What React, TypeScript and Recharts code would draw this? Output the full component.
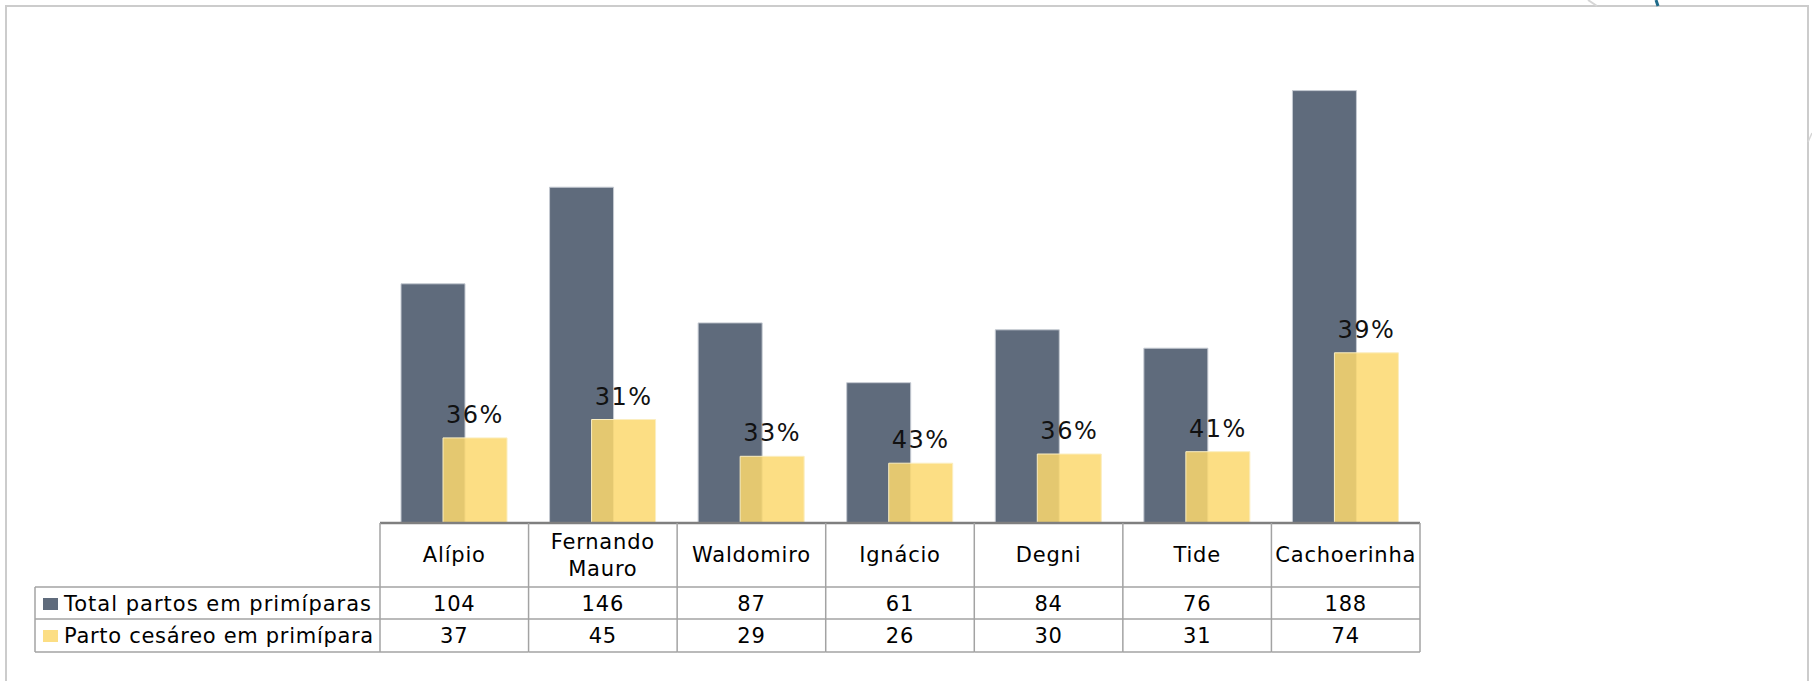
import React from "react";
import { BarChart, Bar, XAxis, YAxis, LabelList } from "recharts";

const categories = ["Alípio", "Fernando Mauro", "Waldomiro", "Ignácio", "Degni", "Tide", "Cachoerinha"];
const totalPartos = [104, 146, 87, 61, 84, 76, 188];
const partoCesareo = [37, 45, 29, 26, 30, 31, 74];
const percentLabels = ["36%", "31%", "33%", "43%", "36%", "41%", "39%"];
const seriesNames = ["Total partos em primíparas", "Parto cesáreo em primípara"];

const data = categories.map((name, i) => ({
  name,
  total: totalPartos[i],
  cesareo: partoCesareo[i],
  pct: percentLabels[i],
}));

const W = 1812;
const H = 681;
const MARGIN = { top: 63, right: 392, bottom: 28, left: 380 };
const AXIS_H = 130;
const CELL_W = (W - MARGIN.left - MARGIN.right) / categories.length;
const LEGEND_LEFT = 35;

const DARK = "#5f6b7c";
const YELLOW = "#fcd86f";
const LINE = "#a3a3a3";
const FONT = "'DejaVu Sans', sans-serif";

const ROW1 = 64; // height of category row
const ROW2 = 32;
const ROW3 = 33;

const textStyle: React.CSSProperties = { letterSpacing: 0.8 };

const TableTick = (props: any) => {
  const { x, y, payload, index } = props;
  const left = x - CELL_W / 2;
  const right = x + CELL_W / 2;
  const yA = y;
  const yB = y + ROW1;
  const yC = yB + ROW2;
  const yD = yC + ROW3;
  const name: string = payload.value;
  const lines = name.includes(" ") ? name.split(" ") : [name];
  const i = categories.indexOf(name);
  const isLast = index === categories.length - 1;
  return (
    <g fontFamily={FONT} fontSize={21} fill="#000">
      <line x1={left} y1={yA} x2={left} y2={yD} stroke={LINE} strokeWidth={1.5} />
      {isLast && <line x1={right} y1={yA} x2={right} y2={yD} stroke={LINE} strokeWidth={1.5} />}
      <line x1={left} y1={yB} x2={right} y2={yB} stroke={LINE} strokeWidth={1.5} />
      <line x1={left} y1={yC} x2={right} y2={yC} stroke={LINE} strokeWidth={1.5} />
      <line x1={left} y1={yD} x2={right} y2={yD} stroke={LINE} strokeWidth={1.5} />
      {lines.length === 1 ? (
        <text x={x} y={yA + 39} textAnchor="middle" style={textStyle}>{lines[0]}</text>
      ) : (
        lines.map((ln, k) => (
          <text key={k} x={x} y={yA + 26 + k * 27} textAnchor="middle" style={textStyle}>{ln}</text>
        ))
      )}
      <text x={x} y={yB + 24} textAnchor="middle" style={textStyle}>{totalPartos[i]}</text>
      <text x={x} y={yC + 24} textAnchor="middle" style={textStyle}>{partoCesareo[i]}</text>
      {index === 0 && (
        <g>
          <line x1={LEGEND_LEFT} y1={yB} x2={left} y2={yB} stroke={LINE} strokeWidth={1.5} />
          <line x1={LEGEND_LEFT} y1={yC} x2={left} y2={yC} stroke={LINE} strokeWidth={1.5} />
          <line x1={LEGEND_LEFT} y1={yD} x2={left} y2={yD} stroke={LINE} strokeWidth={1.5} />
          <line x1={LEGEND_LEFT} y1={yB} x2={LEGEND_LEFT} y2={yD} stroke={LINE} strokeWidth={1.5} />
          <rect x={43} y={yB + 11} width={15} height={12} fill={DARK} />
          <text x={64} y={yB + 24} style={{ letterSpacing: 1 }}>{seriesNames[0]}</text>
          <rect x={43} y={yC + 11} width={15} height={12} fill={YELLOW} fillOpacity={0.85} />
          <text x={64} y={yC + 24} style={{ letterSpacing: 0.7 }}>{seriesNames[1]}</text>
        </g>
      )}
    </g>
  );
};

const PctLabel = (props: any) => {
  const { x, y, width, value } = props;
  return (
    <text
      x={x + width / 2}
      y={y - 15}
      textAnchor="middle"
      fontFamily={FONT}
      fontSize={24}
      fill="#111"
      style={{ letterSpacing: 1.5 }}
    >
      {value}
    </text>
  );
};

export default function App() {
  return (
    <div
      style={{
        position: "absolute",
        left: 0,
        top: 0,
        width: W,
        height: H,
        overflow: "hidden",
        background: "#fff",
      }}
    >
      <div
        style={{
          position: "absolute",
          left: 5,
          top: 5,
          width: 1804,
          height: 720,
          border: "2px solid #cccccc",
          boxSizing: "border-box",
        }}
      />
      <svg width={W} height={H} style={{ position: "absolute", left: 0, top: 0 }}>
        <line x1={1588} y1={0} x2={1597} y2={6} stroke="#d6d6d6" strokeWidth={2} />
        <path d="M1656 0 Q1657 3 1658 6" stroke="#1f6b8a" strokeWidth={3} fill="none" />
        <line x1={1808} y1={142} x2={1812} y2={133} stroke="#d6d6d6" strokeWidth={1.5} />
      </svg>
      <div style={{ position: "absolute", left: 0, top: 0 }}>
        <BarChart
          width={W}
          height={H}
          data={data}
          margin={MARGIN}
          barSize={64}
          barGap={-22}
        >
          <YAxis hide domain={[0, 200]} />
          <XAxis
            dataKey="name"
            interval={0}
            height={AXIS_H}
            tickLine={false}
            tickSize={0}
            tickMargin={0}
            axisLine={{ stroke: "#7f7f7f", strokeWidth: 2.5 }}
            tick={<TableTick />}
          />
          <Bar
            dataKey="total"
            fill={DARK}
            stroke="#c5cad2"
            strokeWidth={1}
            isAnimationActive={false}
          />
          <Bar
            dataKey="cesareo"
            fill={YELLOW}
            fillOpacity={0.85}
            stroke="#fbeec0"
            strokeWidth={1}
            isAnimationActive={false}
          >
            <LabelList dataKey="pct" content={<PctLabel />} />
          </Bar>
        </BarChart>
      </div>
    </div>
  );
}
